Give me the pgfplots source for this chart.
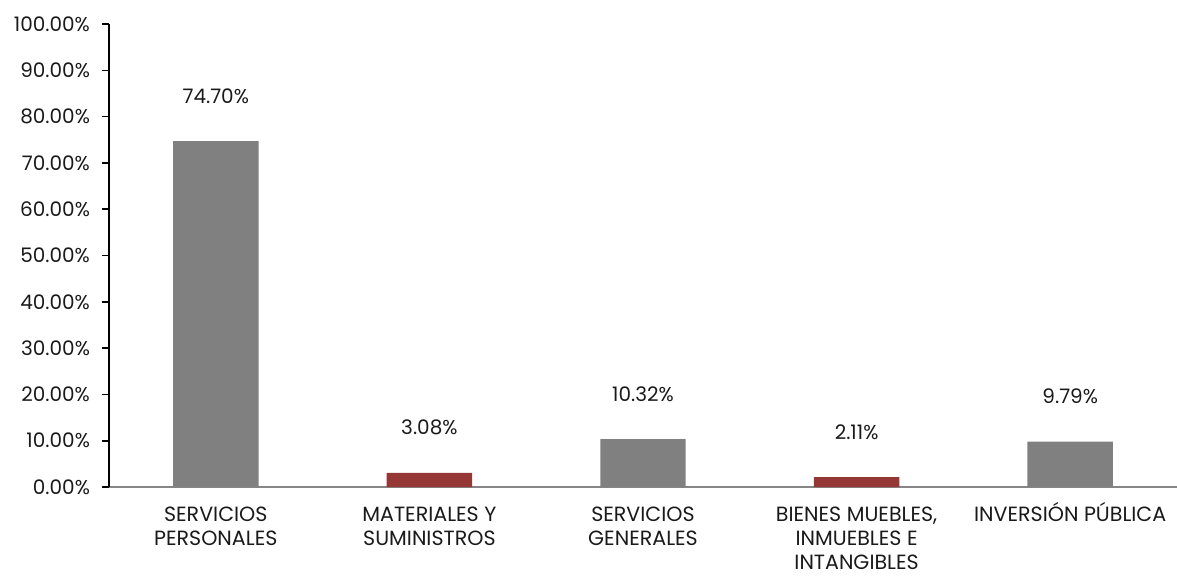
\documentclass[border=0pt]{standalone}
\usepackage{fontspec}
\setmainfont{Poppins}
\usepackage{pgfplots}
\pgfplotsset{compat=1.18}
\definecolor{bargray}{HTML}{808080}
\definecolor{barred}{HTML}{953735}
\definecolor{axgray}{HTML}{868686}
\definecolor{txt}{HTML}{1A1A1A}
\begin{document}
\begin{tikzpicture}
\path[use as bounding box] (-54.5pt,-44pt) rectangle (534pt,243.5pt);
\begin{axis}[
  scale only axis,
  width=534pt, height=231.5pt,
  at={(0,0)}, anchor=south west,
  xmin=-0.5, xmax=4.5, ymin=0, ymax=100,
  axis x line*=bottom, axis y line*=left,
  x axis line style={axgray, line width=0.8pt},
  y axis line style={black, line width=0.8pt},
  tick align=outside,
  xtick={0,1,2,3,4},
  xticklabels={SERVICIOS\\PERSONALES, MATERIALES Y\\SUMINISTROS, SERVICIOS\\GENERALES, {BIENES MUEBLES,\\INMUEBLES E\\INTANGIBLES}, {INVERSI\smash{Ó}N P\smash{Ú}BLICA}},
  x tick style={draw=none},
  xticklabel style={align=center, font=\fontsize{10.3}{12}\selectfont, text=txt, yshift=-3pt},
  extra x ticks={-0.5,0.5,1.5,2.5,3.5,4.5},
  extra x tick labels={},
  extra x tick style={tick style={draw=axgray, line width=0.8pt}, major tick length=3.5pt},
  ytick={0,10,...,100},
  y tick style={black, line width=0.8pt},
  major tick length=3.5pt,
  yticklabel={\pgfmathprintnumber[fixed,fixed zerofill,precision=2]{\tick}\%},
  /pgf/number format/assume math mode=true,
  yticklabel style={font=\fontsize{10}{12}\selectfont, text=txt, xshift=-2.5pt},
  ybar, bar width=0.4, bar shift=0pt,
  nodes near coords={\pgfmathprintnumber[fixed,fixed zerofill,precision=2]{\pgfplotspointmeta}\%},
  nodes near coords style={anchor=center, yshift=22.5pt, font=\fontsize{10}{12}\selectfont, text=txt},
  clip=false,
]
\addplot[fill=bargray, draw=none] coordinates {(0,74.70) (2,10.32) (4,9.79)};
\addplot[fill=barred, draw=none] coordinates {(1,3.08) (3,2.11)};
\end{axis}
\end{tikzpicture}
\end{document}
